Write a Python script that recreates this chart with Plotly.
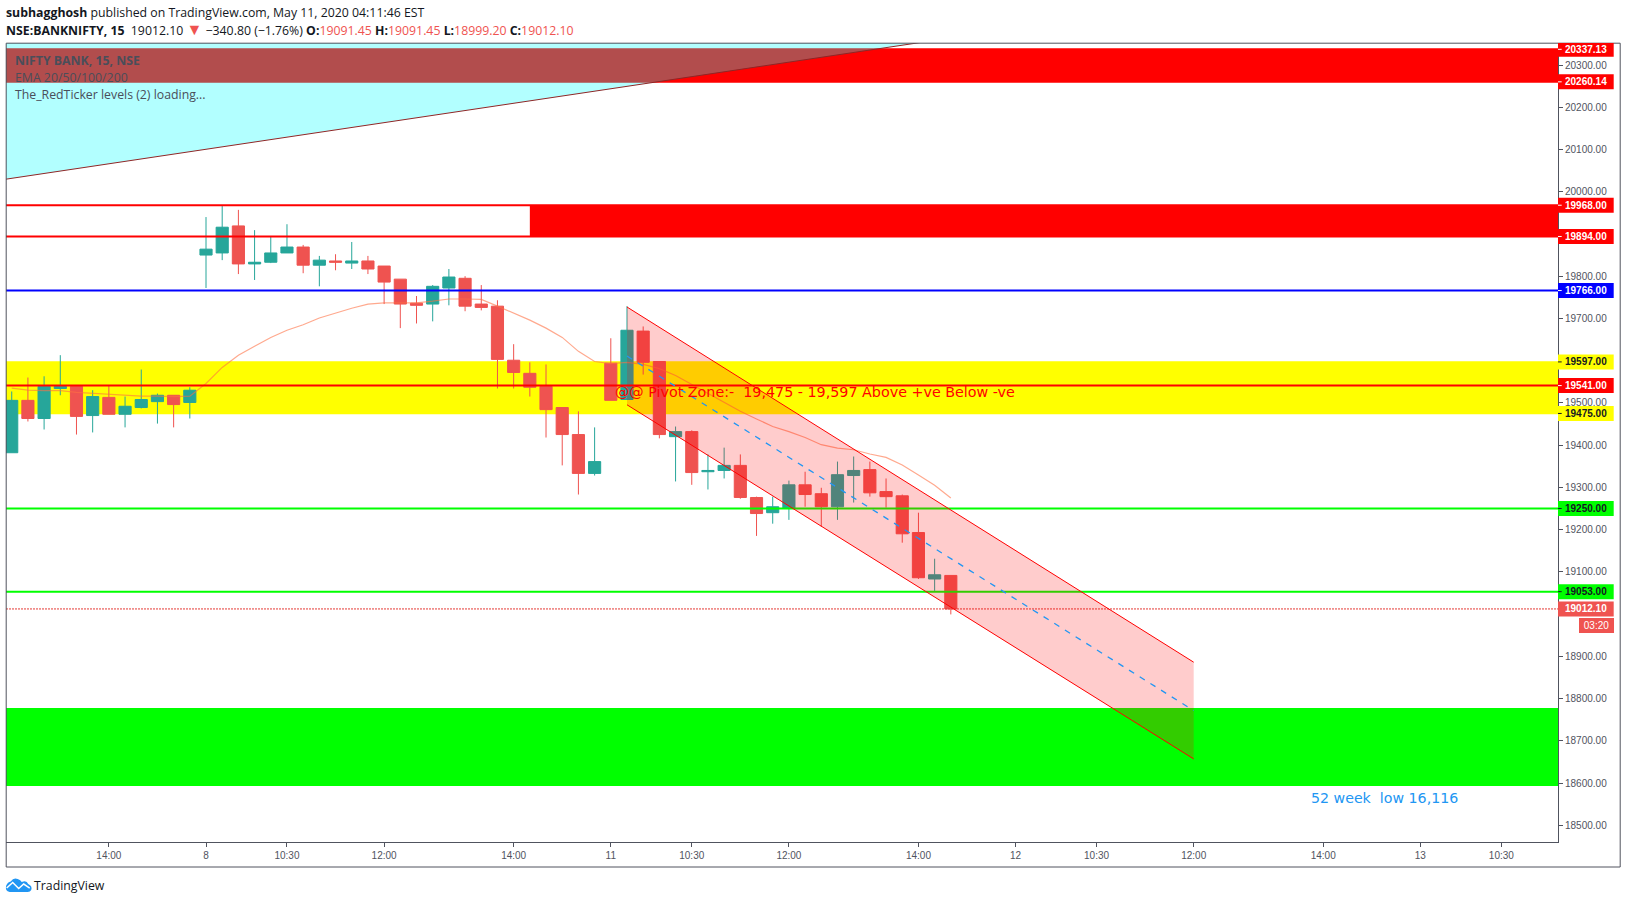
import plotly.graph_objects as go

# 15 minute bars, index 0 is the first bar of the 8th
bar_index = list(range(-12, 47))
opens = [19382, 19506, 19463, 19534, 19539, 19470, 19513, 19473, 19489, 19503, 19518, 19501,
         19850, 19855, 19919, 19829, 19833, 19855, 19869, 19826, 19836, 19831, 19836, 19824,
         19793, 19736, 19734, 19772, 19795, 19734, 19729, 19601, 19570, 19539, 19489, 19425,
         19333, 19594, 19508, 19670, 19598, 19420, 19432, 19337, 19340, 19352, 19276, 19240,
         19250, 19306, 19285, 19254, 19328, 19342, 19290, 19280, 19193, 19083, 19091.45]
highs = [19527, 19560, 19563, 19613, 19541, 19530, 19541, 19515, 19579, 19522, 19518, 19537,
         19940, 19966, 19957, 19909, 19893, 19923, 19874, 19848, 19852, 19881, 19848, 19824,
         19793, 19753, 19779, 19817, 19800, 19779, 19743, 19639, 19596, 19591, 19489, 19480,
         19442, 19653, 19729, 19681, 19598, 19444, 19435, 19378, 19394, 19378, 19278, 19278,
         19316, 19337, 19299, 19361, 19373, 19361, 19321, 19283, 19240, 19131, 19091.45]
lows = [19382, 19456, 19437, 19518, 19425, 19430, 19473, 19442, 19487, 19451, 19442, 19463,
        19772, 19838, 19805, 19791, 19831, 19855, 19807, 19776, 19814, 19817, 19805, 19734,
        19677, 19688, 19693, 19731, 19717, 19719, 19534, 19534, 19515, 19418, 19352, 19283,
        19328, 19506, 19508, 19567, 19416, 19314, 19306, 19295, 19321, 19273, 19185, 19214,
        19223, 19254, 19207, 19223, 19264, 19278, 19252, 19169, 19083, 19055, 18999.20]
closes = [19506, 19463, 19539, 19539, 19468, 19515, 19473, 19492, 19508, 19518, 19496, 19530,
          19864, 19916, 19829, 19833, 19855, 19869, 19826, 19838, 19833, 19836, 19817, 19786,
          19734, 19731, 19776, 19798, 19729, 19726, 19603, 19572, 19537, 19484, 19425, 19333,
          19361, 19506, 19672, 19596, 19425, 19432, 19335, 19340, 19352, 19276, 19238, 19254,
          19306, 19283, 19254, 19330, 19340, 19287, 19278, 19190, 19086, 19093, 19012.10]
ema = [19535, 19530, 19529, 19529, 19525, 19523, 19520, 19518, 19516, 19516, 19515, 19516,
       19546, 19584, 19613, 19634, 19655, 19672, 19685, 19701, 19713, 19724, 19734, 19737,
       19737, 19737, 19741, 19746, 19746, 19745, 19729, 19712, 19696, 19677, 19655, 19622,
       19598, 19593, 19596, 19591, 19581, 19565, 19544, 19522, 19502, 19480, 19462, 19444,
       19432, 19418, 19401, 19393, 19389, 19379, 19371, 19353, 19329, 19305, 19275]

x_range = [-12.353, 83.5]
y_range = [18460.3, 20352.1]

x_ticks = [-6, 0, 5, 11, 19, 25, 30, 36, 44, 50, 55, 61, 69, 75, 80]
x_labels = ["14:00", "8", "10:30", "12:00", "14:00", "11", "10:30", "12:00", "14:00", "12",
            "10:30", "12:00", "14:00", "13", "10:30"]
y_ticks = [18500, 18600, 18700, 18800, 18900, 19000, 19100, 19200, 19300, 19400, 19500,
           19600, 19700, 19800, 19900, 20000, 20100, 20200, 20300]
# labels the reference has covered by other labels stay blank
y_labels = ["18500.00", "18600.00", "18700.00", "18800.00", "18900.00", "", "19100.00", "19200.00", "19300.00",
            "19400.00", "19500.00", "", "19700.00", "19800.00", "", "20000.00", "20100.00", "20200.00", "20300.00"]

# drawn levels
top_zone = [20260.14, 20337.13]
resistance_zone = [19894, 19968]
pivot_zone = [19475, 19597]
buy_zone = [18593, 18777.7]
pivot_level = 19541
blue_level = 19766
green_levels = [19250, 19053]
last_price = 19012.10

trend_x = [-13, 50, -13]
trend_y = [20026, 20387, 20387]

channel_x = [26, 61]
channel_upper = [19727, 18886]
channel_middle = [19611, 18771.5]
channel_lower = [19495.5, 18657]

price_labels = [20337.13, 20260.14, 19968, 19894, 19766, 19597, 19541, 19475, 19250, 19053, 19012.10]
label_bg = ["#ff0000", "#ff0000", "#ff0000", "#ff0000", "#0000ff", "#ffff00", "#ff0000", "#ffff00",
            "#00ff00", "#00ff00", "#ef5350"]
label_fg = ["white", "white", "white", "white", "white", "#131722", "white", "#131722",
            "#131722", "#131722", "white"]

RED = "#ef5350"
TEAL = "#26a69a"
AXIS = "#50535e"
UI_FONT = "Open Sans"
AXIS_FONT = "Liberation Sans"

L, R, T, B = 6.3, 1558.3, 43.3, 842


def px(x):
    return (x - L) / (R - L)


def py(y):
    return 1 - (y - T) / (B - T)


fig = go.Figure()

fig.add_trace(go.Scatter(x=trend_x, y=trend_y, mode="none", fill="toself",
                         fillcolor="rgba(0,255,255,0.3)", hoverinfo="skip"))
fig.add_trace(go.Scatter(x=trend_x[:2], y=trend_y[:2], mode="lines",
                         line=dict(color="#8f2626", width=1), hoverinfo="skip"))
fig.add_trace(go.Candlestick(x=bar_index, open=opens, high=highs, low=lows, close=closes,
                             increasing=dict(line=dict(color=TEAL, width=1), fillcolor=TEAL),
                             decreasing=dict(line=dict(color=RED, width=1), fillcolor=RED),
                             whiskerwidth=0))
fig.add_trace(go.Scatter(x=bar_index, y=ema, mode="lines",
                         line=dict(color="rgba(255,112,67,0.6)", width=1.2), hoverinfo="skip"))

# zones under the candles
fig.add_shape(type="rect", xref="x", yref="y", x0=x_range[0], x1=x_range[1], y0=top_zone[0], y1=top_zone[1],
              fillcolor="#ff0000", line=dict(color="#ff0000", width=2), layer="below")
fig.add_shape(type="rect", xref="x", yref="y", x0=x_range[0], x1=x_range[1], y0=pivot_zone[0], y1=pivot_zone[1],
              fillcolor="#ffff00", line=dict(color="#ffff00", width=1.5), layer="below")
fig.add_shape(type="rect", xref="x", yref="y", x0=x_range[0], x1=x_range[1], y0=buy_zone[0], y1=buy_zone[1],
              fillcolor="#00ff00", line_width=0, layer="below")
fig.add_shape(type="rect", xref="x", yref="y", x0=20, x1=x_range[1], y0=resistance_zone[0], y1=resistance_zone[1],
              fillcolor="#ff0000", line_width=0, layer="below")

# horizontal levels
for level in resistance_zone:
    fig.add_hline(y=level, line=dict(color="#ff0000", width=2))
fig.add_hline(y=blue_level, line=dict(color="#0000ff", width=2))
fig.add_hline(y=pivot_level, line=dict(color="#ff0000", width=2))
for level in green_levels:
    fig.add_hline(y=level, line=dict(color="#00ff00", width=2))
fig.add_hline(y=last_price, line=dict(color="#e53935", width=1, dash="2px,1px"))

# regression channel
fig.add_shape(type="path", xref="x", yref="y",
              path=f"M {channel_x[0]} {channel_upper[0]} L {channel_x[1]} {channel_upper[1]} "
                   f"L {channel_x[1]} {channel_lower[1]} L {channel_x[0]} {channel_lower[0]} Z",
              fillcolor="rgba(255,0,0,0.2)", line_width=0)
fig.add_shape(type="line", xref="x", yref="y", x0=channel_x[0], x1=channel_x[1],
              y0=channel_upper[0], y1=channel_upper[1], line=dict(color="#ff0000", width=1))
fig.add_shape(type="line", xref="x", yref="y", x0=channel_x[0], x1=channel_x[1],
              y0=channel_lower[0], y1=channel_lower[1], line=dict(color="#ff0000", width=1))
fig.add_shape(type="line", xref="x", yref="y", x0=channel_x[0], x1=channel_x[1],
              y0=channel_middle[0], y1=channel_middle[1], line=dict(color="#2196f3", width=1.3, dash="6px,6.6px"))

# outer frame
fig.add_shape(type="rect", xref="paper", yref="paper", x0=px(6.5), x1=px(1620.5), y0=py(867), y1=py(43.5),
              line=dict(color=AXIS, width=1), layer="above")

# logo
logo = (f"M {px(10)} {py(892)} Q {px(5)} {py(891)} {px(6.5)} {py(885.5)} Q {px(8)} {py(882)} {px(11)} {py(881.5)} "
        f"Q {px(14)} {py(877)} {px(18)} {py(879)} Q {px(21)} {py(880)} {px(22)} {py(882)} "
        f"Q {px(27)} {py(880)} {px(28.5)} {py(884)} Q {px(33)} {py(886)} {px(31.5)} {py(890)} "
        f"Q {px(30.5)} {py(892)} {px(28)} {py(892)} Z")
fig.add_shape(type="path", xref="paper", yref="paper", path=logo, fillcolor="#2196f3", line_width=0, layer="above")
zigzag = (f"M {px(7)} {py(888)} L {px(13)} {py(882.5)} L {px(19)} {py(888.5)} L {px(24)} {py(884)} L {px(30)} {py(888)}")
fig.add_shape(type="path", xref="paper", yref="paper", path=zigzag, line=dict(color="white", width=1.5), layer="above")


def note(text, x, y, size=12.3, color="#131722", family=UI_FONT):
    fig.add_annotation(text=text, xref="paper", yref="paper", x=px(x), y=py(y), xanchor="left", yanchor="middle",
                       showarrow=False, font=dict(family=family, size=size, color=color), align="left")


note("<b>subhagghosh</b> published on TradingView.com, May 11, 2020 04:11:46 EST", 4, 12.5)
v = f'<span style="color:{RED}">%s</span>'
arrow = f'<span style="color:{RED};font-size:16px">▼</span>'
note("<b>NSE:BANKNIFTY, 15</b>  19012.10 " + arrow + " −340.80 (−1.76%) <b>O:</b>" + v % "19091.45"
     + " <b>H:</b>" + v % "19091.45" + " <b>L:</b>" + v % "18999.20" + " <b>C:</b>" + v % "19012.10", 4, 29.5)
note("<b>NIFTY BANK, 15, NSE</b>", 13, 60.7, color="#4a4e5a")
note("EMA 20/50/100/200", 13, 77.5, color="#4a4e5a")
note("The_RedTicker levels (2) loading...", 13, 94.7, color="#4a4e5a")
note("TradingView", 32, 885, color="#131722")

fig.add_annotation(text="@@ Pivot Zone:-  19,475 - 19,597 Above +ve Below -ve", x=25.12, y=19526, xref="x", yref="y",
                   xanchor="left", yanchor="middle", showarrow=False,
                   font=dict(family="DejaVu Sans", size=14.3, color="#ff0000"))
fig.add_annotation(text="52 week  low 16,116", x=68.1, y=18564.6, xref="x", yref="y",
                   xanchor="left", yanchor="middle", showarrow=False,
                   font=dict(family="DejaVu Sans", size=14.2, color="#2196f3"))

# price scale labels, box and tick as shapes so the tick sits on the box
for value, bg, fg in zip(price_labels, label_bg, label_fg):
    fig.add_shape(type="rect", xref="paper", yref="y", ysizemode="pixel", yanchor=value, y0=-7.5, y1=7.5,
                  x0=1, x1=px(1614), fillcolor=bg, line_width=0, layer="above")
    if value != last_price:
        fig.add_shape(type="line", xref="paper", yref="y", ysizemode="pixel", yanchor=value, y0=0, y1=0,
                      x0=1, x1=px(1562), line=dict(color=fg, width=1), layer="above")
    fig.add_annotation(text=f"<b>{value:.2f}</b>", xref="paper", yref="y", x=px(1586), y=value, xanchor="center",
                       yanchor="middle", showarrow=False, font=dict(family=AXIS_FONT, size=10, color=fg))
fig.add_annotation(text="03:20", xref="paper", yref="y", x=px(1579), y=last_price, yshift=-16.5, xanchor="left",
                   yanchor="middle", width=35, height=15, borderpad=0, borderwidth=0, bgcolor=RED, showarrow=False,
                   font=dict(family=AXIS_FONT, size=10, color="white"))

fig.update_layout(
    width=1627, height=904, autosize=False,
    margin=dict(l=L, r=1627 - R, t=T, b=904 - B, pad=0),
    paper_bgcolor="white", plot_bgcolor="white",
    showlegend=False, boxgap=0.25, boxgroupgap=0, hovermode=False,
    xaxis=dict(range=x_range, tickmode="array", tickvals=x_ticks, ticktext=x_labels, showgrid=False, zeroline=False,
               rangeslider=dict(visible=False), showline=True, linecolor=AXIS, linewidth=1,
               ticks="outside", ticklen=4, tickcolor=AXIS, tickfont=dict(family=AXIS_FONT, size=10, color=AXIS)),
    yaxis=dict(range=y_range, side="right", tickmode="array", tickvals=y_ticks, ticktext=y_labels, showgrid=False,
               zeroline=False, showline=True, linecolor=AXIS, linewidth=1, ticks="outside", ticklen=4, tickcolor=AXIS,
               tickfont=dict(family=AXIS_FONT, size=10, color=AXIS)),
)

fig.write_html("out.html", config=dict(displayModeBar=False),
               post_script="document.body.style.margin='0';")
